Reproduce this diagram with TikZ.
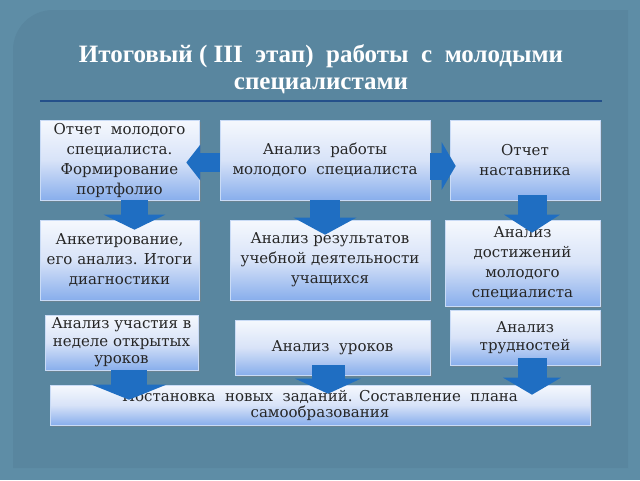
\documentclass[tikz,border=0pt]{standalone}
\usepackage{fontspec}
\setmainfont{DejaVu Serif}
\newfontfamily\titlefont{Liberation Serif}
\usetikzlibrary{arrows.meta,shadows,calc}
\definecolor{bgblue}{HTML}{5E8DA6}
\definecolor{panelblue}{HTML}{59869F}
\definecolor{boxblue}{HTML}{88AEEC}
\definecolor{boxpale}{HTML}{D8E3F8}
\definecolor{arrowblue}{HTML}{1F6EC2}
\definecolor{lineblue}{HTML}{24508A}
\definecolor{textgray}{HTML}{262626}
\tikzset{
  box/.style={rectangle, draw=white!55!boxblue, line width=0.6pt,
    top color=white!92!boxblue, bottom color=boxblue, middle color=boxpale,
    drop shadow={shadow xshift=2pt, shadow yshift=-2pt, opacity=0.45},
    align=center, inner sep=1pt, text=textgray,
    font=\fontsize{15}{20}\selectfont},
  barrow/.style n args={3}{draw=arrowblue, line width=#1pt,
    -{Triangle[width=#2pt,length=#3pt]}}
}
\begin{document}
\begin{tikzpicture}[x=1pt,y=-1pt]
\useasboundingbox (0,0) rectangle (640,480);
\fill[bgblue] (0,0) rectangle (640,480);
\fill[panelblue] (13,468) -- (13,50) arc[start angle=180, end angle=270, radius=40] -- (628,10) -- (628,468) -- cycle;
\node[align=center, text=white, font=\titlefont\bfseries\fontsize{25}{27}\selectfont] (title) at (321,69)
  {Итоговый ( III \ этап) \ работы \ с \ молодыми\\специалистами};
\draw[lineblue, line width=1.2pt] (40,101) -- (602,101);
\node[box, minimum width=159pt, minimum height=80pt] (otchet) at (119.5,160)
  {Отчет~ молодого\\специалиста.\\Формирование\\портфолио};
\node[box, minimum width=210pt, minimum height=80pt] (analiz) at (325,160)
  {Анализ~ работы\\молодого~ специалиста};
\node[box, minimum width=150pt, minimum height=80pt] (nastav) at (525,160)
  {Отчет\\наставника};
\node[box, minimum width=159pt, minimum height=80pt] (anket) at (119.5,260)
  {Анкетирование,\\его анализ. Итоги\\диагностики};
\node[box, minimum width=200pt, minimum height=80pt] (result) at (330,260)
  {Анализ результатов\\учебной деятельности\\учащихся};
\node[box, minimum width=155pt, minimum height=86pt] (dostig) at (522.5,263)
  {Анализ\\достижений\\молодого\\специалиста};
\draw[barrow={19}{35}{14}] ($(analiz.west)+(0,2.5)$) -- ($(otchet.east)+(-13,2.5)$);
\draw[barrow={27}{47}{14}] ($(analiz.east)+(0,6)$) -- ($(nastav.west)+(6,6)$);
\draw[barrow={27}{61}{15}] ($(otchet.south)+(15,0)$) -- ($(anket.north)+(15,10)$);
\draw[barrow={30}{62}{17}] ($(analiz.south)+(0,0)$) -- ($(result.north)+(-5,15)$);
\draw[barrow={29}{55}{18}] ($(nastav.south)+(7,-5)$) -- ($(dostig.north)+(9.5,13)$);
\node[box, minimum width=153pt, minimum height=55pt, font=\fontsize{15}{17.5}\selectfont] (nedelya) at (121.5,342.5)
  {Анализ участия в\\неделе открытых\\уроков};
\node[box, minimum width=195pt, minimum height=55pt] (uroki) at (332.5,347.5)
  {Анализ~ уроков};
\node[box, minimum width=150pt, minimum height=55pt, font=\fontsize{15}{18}\selectfont] (trudn) at (525,337.5)
  {Анализ\\трудностей};
\node[box, minimum width=540pt, minimum height=40pt, font=\fontsize{15}{16}\selectfont] (plan) at (320,405)
  {Постановка~ новых~ заданий. Составление~ плана\\самообразования};
\draw[barrow={36}{74}{15}] ($(nedelya.south)+(7.5,0)$) -- ($(nedelya.south |- plan.north)+(7.5,15)$);
\draw[barrow={33}{65}{15}] ($(uroki.south)+(-4.5,-10)$) -- ($(uroki.south |- plan.north)+(-4.5,9)$);
\draw[barrow={29}{57}{17}] ($(trudn.south)+(7,-7)$) -- ($(trudn.south |- plan.north)+(7,10)$);
\end{tikzpicture}
\end{document}
